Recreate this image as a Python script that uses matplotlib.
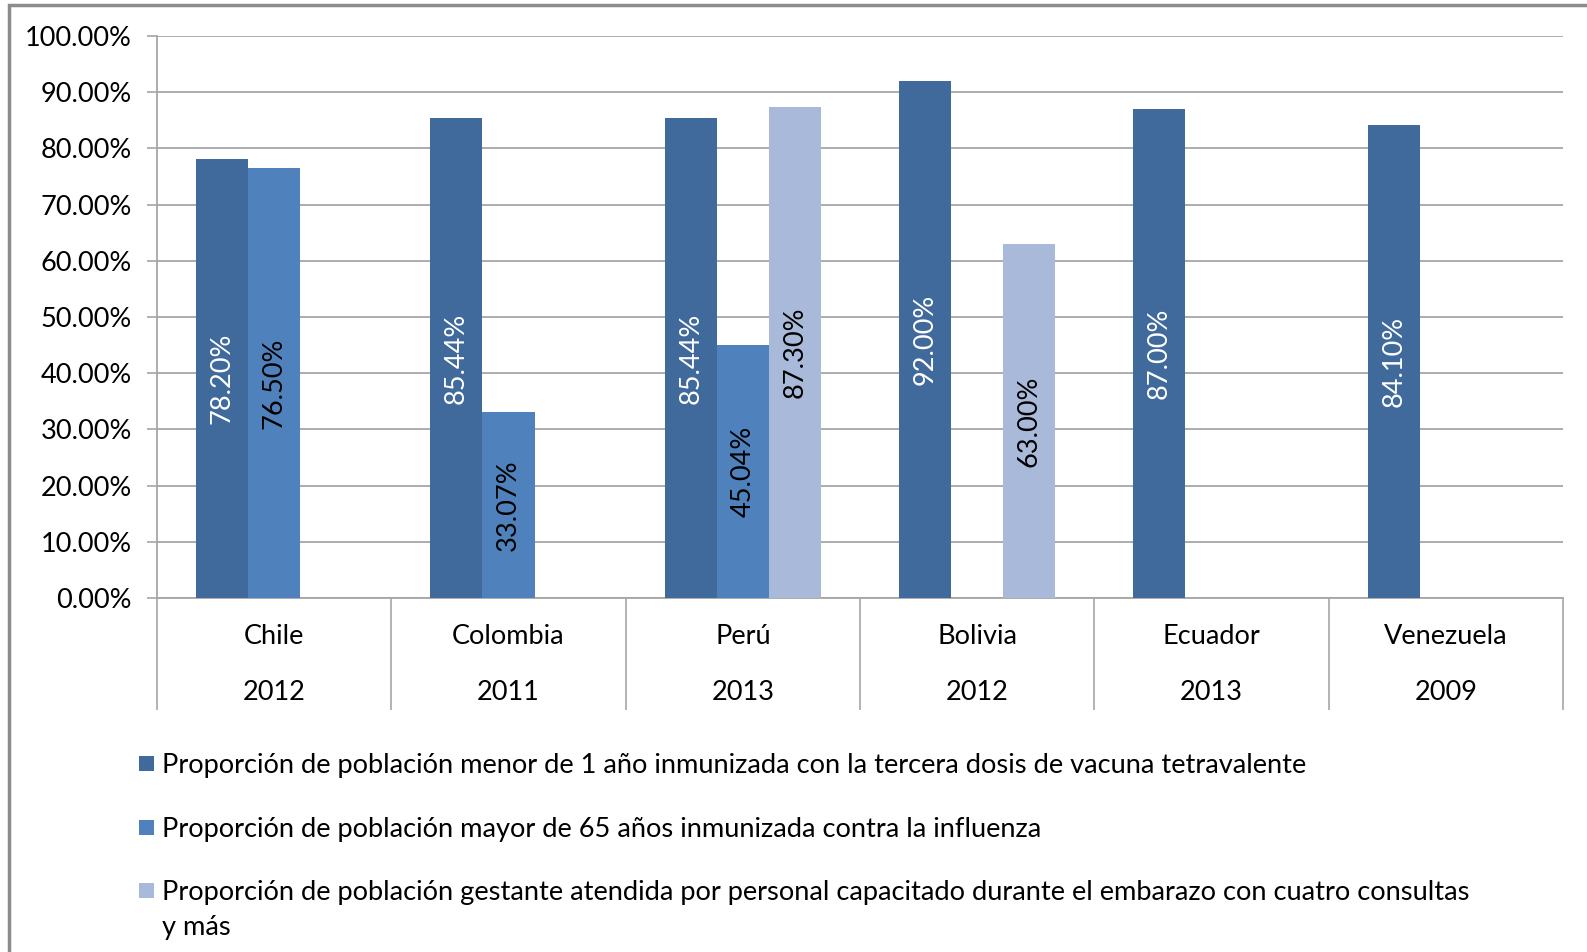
import matplotlib
matplotlib.use("Agg")
import matplotlib.pyplot as plt
import numpy as np
from matplotlib.patches import Rectangle
from matplotlib.ticker import FuncFormatter, FixedLocator

plt.rcParams['font.family'] = ['Lato', 'DejaVu Sans']

paises = ["Chile", "Colombia", "Perú", "Bolivia", "Ecuador", "Venezuela"]
anios = ["2012", "2011", "2013", "2012", "2013", "2009"]
menores_1 = [78.20, 85.44, 85.44, 92.00, 87.00, 84.10]
mayores_65 = [76.50, 33.07, 45.04, np.nan, np.nan, np.nan]
gestantes = [np.nan, np.nan, 87.30, 63.00, np.nan, np.nan]
series_labels = [
    "Proporción de población menor de 1 año inmunizada con la tercera dosis de vacuna tetravalente",
    "Proporción de población mayor de 65 años inmunizada contra la influenza",
    "Proporción de población gestante atendida por personal capacitado durante el embarazo con cuatro consultas\ny más",
]

colors = ["#406A9C", "#4F81BD", "#A9B9D9"]
text_colors = ["white", "black", "black"]
grid_c = "#A6A6A6"
fs = 19.5

W, H = 1587, 952
fig = plt.figure(figsize=(W / 100, H / 100), dpi=100)
ax = fig.add_axes([157 / W, 1 - 598 / H, (1563 - 157) / W, (598 - 36) / H])

x = np.arange(len(paises))
w = 0.222
for k, vals in enumerate([menores_1, mayores_65, gestantes]):
    vals = np.array(vals)
    pos = x + (k - 1) * w
    ax.bar(pos, vals, width=w, color=colors[k], linewidth=0, zorder=3)
    for xi, v in zip(pos, vals):
        if np.isnan(v):
            continue
        ax.text(xi, v / 2, f"{v:.2f}%", rotation=90, ha="center", va="center",
                color=text_colors[k], fontsize=fs, zorder=4)

ax.set_xlim(-0.5, len(paises) - 0.5)
ax.set_ylim(0, 100)
ax.set_yticks(np.arange(0, 101, 10))
ax.yaxis.set_major_formatter(FuncFormatter(lambda v, p: f"{v:.2f}%"))
ax.tick_params(axis="y", direction="out", length=7, width=1.2, color=grid_c,
               labelsize=fs, pad=11, labelcolor="black")
ax.grid(axis="y", color=grid_c, linewidth=1.3, zorder=0)

ax.xaxis.set_major_locator(FixedLocator([]))
ax.xaxis.set_minor_locator(FixedLocator(np.arange(-0.5, len(paises), 1)))
ax.tick_params(axis="x", which="minor", direction="out", length=80.5, width=1.2, color=grid_c)

for s in ["top", "right"]:
    ax.spines[s].set_visible(False)
for s in ["left", "bottom"]:
    ax.spines[s].set_color(grid_c)
    ax.spines[s].set_linewidth(1.3)

tr = ax.get_xaxis_transform()
for i, (p, a) in enumerate(zip(paises, anios)):
    ax.text(i, -(636 - 598) / (598 - 36), p, transform=tr, ha="center", va="center", fontsize=fs)
    ax.text(i, -(692 - 598) / (598 - 36), a, transform=tr, ha="center", va="center", fontsize=fs)

# legend
ys = [764, 828, 891]
for k, (lab, yc) in enumerate(zip(series_labels, ys)):
    fig.patches.append(Rectangle((139 / W, 1 - (yc + 7) / H), 15 / W, 15 / H,
                                 transform=fig.transFigure, color=colors[k], linewidth=0))
    fig.text(162 / W, 1 - (yc - 11) / H, lab, ha="left", va="top", fontsize=19.6,
             linespacing=1.5)

# outer frame (only top and left visible)
fig.patches.append(Rectangle((9 / W, -0.05), 1.1, 1 - 5 / H + 0.05, transform=fig.transFigure,
                             fill=False, edgecolor="#8C8C8C", linewidth=2.5))

fig.savefig("out.png", dpi=100)
